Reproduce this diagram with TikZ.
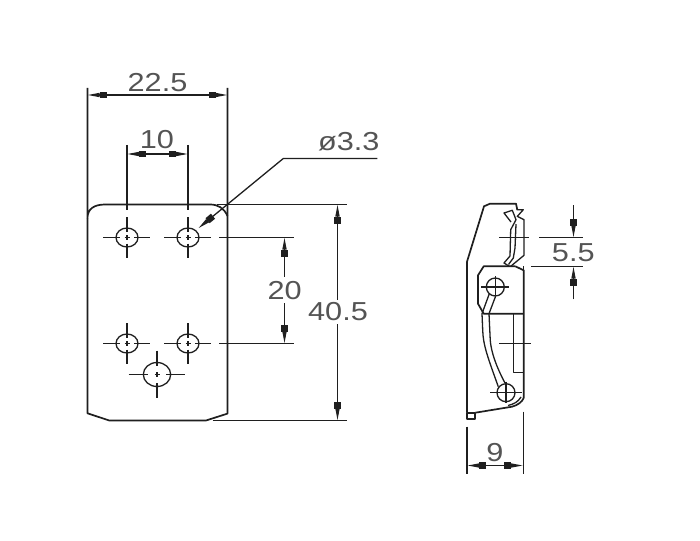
\documentclass[tikz,border=0pt]{standalone}
\usepackage{fontspec}
\usetikzlibrary{arrows.meta}
\setmainfont[FakeStretch=1.18]{Liberation Sans}
\definecolor{ink}{gray}{0.12}
\definecolor{txt}{gray}{0.33}
\tikzset{
  dimtip/.tip={Rectangle[length=7pt,width=6.5pt,sep=0pt] Triangle[length=12pt,width=4pt]},
  part/.style={draw=ink,line width=1.7pt,line join=round},
  thin part/.style={draw=ink,line width=1.3pt,line join=round},
  aux/.style={draw=ink,line width=1.3pt},
  dimtext/.style={text=txt,inner sep=0pt,font=\fontsize{26pt}{27pt}\selectfont},
}
\begin{document}
\begin{tikzpicture}[x=1pt,y=-1pt]
\fill[white] (0,0) rectangle (700,540);
\useasboundingbox (0,0) rectangle (700,540);
% plate
\draw[part] (87.5,88) -- (87.5,218) .. controls (87.5,209) and (94,204.5) .. (105,204.5) -- (210,204.5)
  .. controls (218,204.5) and (224,208) .. (227.5,216);
\draw[part] (87.5,218) -- (87.5,413.3) -- (109.3,420.5) -- (206,420.5) -- (227.5,413.6) -- (227.5,88);
% holes
\foreach \cx/\cy in {127/237.5,188/237.5,127/343.5,188/343.5}{
  \draw[thin part] (\cx,\cy) ellipse [x radius=11pt,y radius=9.5pt];
  \draw[aux] (\cx-24,\cy) -- (\cx-7,\cy) (\cx+7,\cy) -- (\cx+23,\cy)
             (\cx,\cy-20.5) -- (\cx,\cy-6) (\cx,\cy+6) -- (\cx,\cy+20)
             (\cx-2.5,\cy) -- (\cx+2.5,\cy) (\cx,\cy-2.5) -- (\cx,\cy+2.5);
}
\draw[thin part] (157,374.5) ellipse [x radius=13.7pt,y radius=12pt];
\draw[aux] (128.7,374.5) -- (148,374.5) (166,374.5) -- (184.7,374.5) (157,350.7) -- (157,366) (157,383) -- (157,398.3)
           (154.5,374.5) -- (159.5,374.5) (157,372) -- (157,377);
% extension lines left view
\draw[aux] (127,145) -- (127,210) (188,145) -- (188,210);
\draw[aux] (219,237.5) -- (294,237.5) (219,343.5) -- (294,343.5);
\draw[aux] (216.7,204.5) -- (346.7,204.5) (212.7,420.5) -- (346.7,420.5);
% dimensions left view
\draw[aux,{dimtip}-{dimtip}] (87.5,95) -- (227.5,95);
\draw[aux,{dimtip}-{dimtip}] (127,154) -- (188,154);
\draw[aux,{dimtip}-] (284.5,237.5) -- (284.5,276.7);
\draw[aux,-{dimtip}] (284.5,303) -- (284.5,343.5);
\draw[aux,{dimtip}-] (337.5,204.5) -- (337.5,300);
\draw[aux,-{dimtip}] (337.5,324) -- (337.5,420.5);
\draw[aux,{dimtip}-] (198.3,228.3) -- (283.3,158.5) -- (377.3,158.5);
\node[dimtext] (w) at (157.5,83) {22.5};
\node[dimtext] (p) at (157,140) {10};
\node[dimtext] (d) at (348.7,142) {ø3.3};
\node[dimtext] (v) at (284.7,291) {20};
\node[dimtext] (h) at (338,312) {40.5};
% side view: body
\draw[part] (467,412.7) -- (467,261.7) -- (484,206.3) -- (490,203.7) -- (516,203.7) -- (517.3,209.7);
\draw[part] (467,412.7) rectangle (474.7,419.3);
\draw[part] (475.3,412.7) -- (512,406.7) .. controls (518,405) and (522,402) .. (523.7,398);
% clasp
\draw[thin part] (511,222) -- (504,213) -- (512.3,210.3) -- (516,219.7) -- (510.7,229.7) -- (510,256) -- (504,263) -- (509.3,266.3);
\draw[thin part] (516.7,209.7) -- (523.3,209.7) -- (517.3,216.3) -- (524,219.7) -- (524,255.3) -- (510.7,266.3);
\draw[thin part] (516,224) -- (515,248) -- (513.3,258) -- (508.5,264.5);
% bracket
\draw[part] (515.3,266.3) -- (483.7,266.3) -- (478,275.3) -- (478,303.7) -- (483.7,313.7) -- (523.7,313.7);
\draw[part] (515.3,266.3) -- (523.7,270.3) -- (523.7,398);
\draw[thin part] (523.7,266.3) -- (523.7,270.3);
\draw[thin part] (513.7,313.7) -- (513.7,372.7) -- (523.7,372.7);
% arm
\draw[thin part] (489.3,293.7) -- (482,313.7) -- (482.7,330) .. controls (483,345) and (488,358) .. (498.3,386.7);
\draw[thin part] (495.3,297) -- (489,313.7) -- (490,335) .. controls (490,350) and (496,366) .. (505,383);
\draw[thin part] (508,405.5) .. controls (514,404) and (518,402) .. (521,397);
% side holes
\draw[thin part] (495.3,287) circle (9pt);
\draw[aux] (481,287) -- (509,287) (495.3,276) -- (495.3,298);
\draw[thin part] (506,392.7) circle (9pt);
\draw[aux] (490,392.7) -- (522,392.7) (506,381.7) -- (506,403.3);
% centre lines
\draw[aux] (499.3,237.5) -- (529.3,237.5);
\draw[aux] (499.3,343.5) -- (530.7,343.5);
% side dims
\draw[aux] (539.3,237.5) -- (582.7,237.5) (531,266.5) -- (582.7,266.5);
\draw[aux,-{dimtip}] (573.5,205) -- (573.5,237.5);
\draw[aux,-{dimtip}] (573.5,299.3) -- (573.5,266.5);
\draw[aux] (467,426.7) -- (467,474) (523.7,411.7) -- (523.7,474);
\draw[aux,{dimtip}-{dimtip}] (467.3,465.5) -- (523,465.5);
\node[dimtext] (g) at (573.3,252.3) {5.5};
\node[dimtext] (t) at (495,452.5) {9};
\end{tikzpicture}
\end{document}
